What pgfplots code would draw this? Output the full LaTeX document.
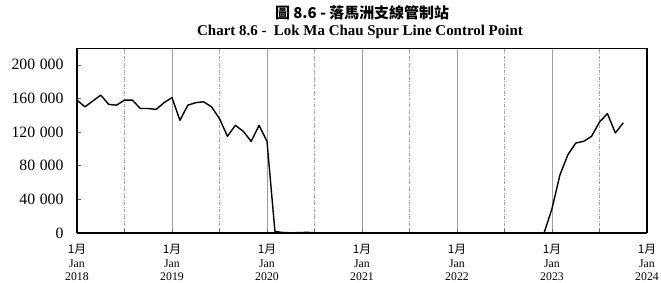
\documentclass[border=0pt]{standalone}
\usepackage{pgfplots}
\pgfplotsset{compat=1.18}
\usepackage{fontspec}
\setmainfont{Liberation Serif}
\newfontfamily\cjk{Noto Sans CJK TC}
\begin{document}
\begin{tikzpicture}
\useasboundingbox (-77bp,-50bp) rectangle (584bp,233bp);
\begin{axis}[
  at={(0,0)}, anchor=south west,
  scale only axis, width=570bp, height=185bp,
  xmin=0, xmax=72, ymin=0, ymax=220000,
  axis x line*=bottom, axis y line*=left,
  axis line style={line width=1.5pt, -},
  xtick={0,12,...,72},
  minor xtick={6,18,...,66},
  xticklabels={{{\cjk 1月}\\Jan\\2018},{{\cjk 1月}\\Jan\\2019},{{\cjk 1月}\\Jan\\2020},{{\cjk 1月}\\Jan\\2021},{{\cjk 1月}\\Jan\\2022},{{\cjk 1月}\\Jan\\2023},{{\cjk 1月}\\Jan\\2024}},
  xticklabel style={align=center, font=\fontsize{11.8}{13.5}\selectfont, yshift=-8bp},
  ytick={0,40000,80000,120000,160000,200000},
  yticklabels={0,40\hspace{0.3em}000,80\hspace{0.3em}000,120\hspace{0.3em}000,160\hspace{0.3em}000,200\hspace{0.3em}000},
  scaled y ticks=false,
  yticklabel style={font=\fontsize{15.8}{17}\selectfont, xshift=-10bp},
  tick align=inside,
  major tick length=4bp, minor tick length=4bp,
  tick style={black!60, line width=0.5pt},
  xmajorgrids, xminorgrids,
  major grid style={gray!75, line width=0.6pt},
  minor grid style={gray!75, line width=0.6pt, dash pattern=on 3pt off 1.5pt on 1pt off 1.5pt},
  clip=false,
]
\addplot[black, line width=1.4pt, line join=round] coordinates {
(0,158000) (1,150000) (2,157000) (3,164000) (4,153000) (5,152000)
(6,158000) (7,158000) (8,148000) (9,148000) (10,147000) (11,155000)
(12,161000) (13,134000) (14,152000) (15,155000) (16,156000) (17,150000)
(18,136000) (19,115000) (20,128000) (21,121000) (22,109000) (23,128000)
(24,109000) (25,2000) (26,500) (27,300) (28,400) (29,800) (30,300)
(31,0) (32,0) (33,0) (34,0) (35,0) (36,0) (37,0) (38,0) (39,0)
(40,0) (41,0) (42,0) (43,0) (44,0) (45,0) (46,0) (47,0) (48,0)
(49,0) (50,0) (51,0) (52,0) (53,0) (54,0) (55,0) (56,0) (57,0)
(58,0) (59,0)
(60,29000) (61,69000) (62,93000) (63,107000) (64,109000) (65,115000)
(66,132000) (67,142000) (68,119000) (69,131000)
};
\end{axis}
\draw[black, line width=1.5pt] (570bp,0) -- (570bp,185bp);
\draw[black, line width=0.8pt] (0,185bp) -- (570bp,185bp);
\node[font=\cjk\bfseries\fontsize{15}{17}\selectfont] at (285bp,220bp) {圖 8.6 - 落馬洲支線管制站};
\node[font=\bfseries\fontsize{15}{17}\selectfont] at (283bp,201bp) {Chart 8.6 -\ \ Lok Ma Chau Spur Line Control Point};
\end{tikzpicture}
\end{document}
